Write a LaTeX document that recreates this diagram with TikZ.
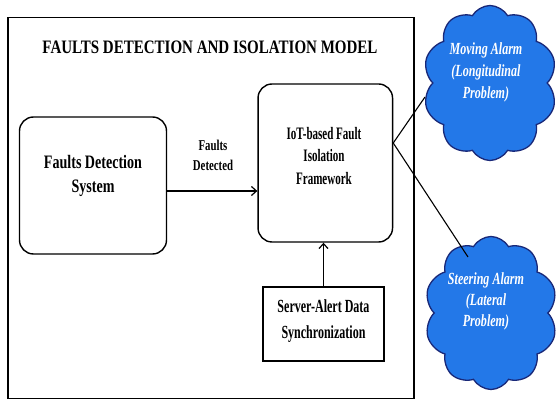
\documentclass[tikz,border=0pt]{standalone}
\usepackage{fontspec}
\setmainfont{Liberation Serif}
\newfontfamily\condA{Liberation Serif}[FakeStretch=0.79]
\newfontfamily\condB{Liberation Serif}[FakeStretch=0.74]
\newfontfamily\condC{Liberation Serif}[FakeStretch=0.63]
\newfontfamily\condD{Liberation Serif}[FakeStretch=0.65]
\newfontfamily\condE{Liberation Serif}[FakeStretch=0.72]
\newfontfamily\condF{Liberation Serif}[FakeStretch=0.71]
\usetikzlibrary{shapes.symbols,arrows.meta}
\definecolor{cloudfill}{RGB}{35,120,232}
\definecolor{cloudline}{RGB}{25,40,120}
\tikzset{
  frame/.style={draw, line width=1.1pt},
  rbox/.style={draw, line width=1.4pt, rounded corners=14pt, inner sep=0pt},
  sbox/.style={draw, line width=1.4pt, inner sep=0pt},
  txt/.style={align=center, inner sep=0pt},
  ctxt/.style={align=center, inner sep=0pt, text=white},
  alarm/.style={cloud, cloud puffs=10, cloud puff arc=120, cloud ignores aspect, draw=cloudline, fill=cloudfill, line width=1.3pt, inner sep=0pt},
  conn/.style={line width=1.1pt},
  arr/.style={line width=1.2pt, -{Straight Barb[length=5pt,width=9pt,line width=1.2pt]}}
}
\begin{document}
\begin{tikzpicture}[x=1pt,y=-1pt]
\useasboundingbox (0,0) rectangle (558,403);
\node[frame, minimum width=406pt, minimum height=381pt] (frame) at (211,208) {};
\node[txt, font=\condA\bfseries\fontsize{19}{22}\selectfont] (title) at (210,47) {FAULTS DETECTION AND ISOLATION MODEL};
\node[rbox, minimum width=147pt, minimum height=137pt] (fds) at (93,185.5) {};
\node[txt, font=\condB\bfseries\fontsize{19}{24}\selectfont] (fdst) at (93,176) {Faults Detection\\System};
\node[rbox, minimum width=134.5pt, minimum height=158pt] (iot) at (325.3,163) {};
\node[txt, font=\condC\bfseries\fontsize{17.5}{22.5}\selectfont] (iott) at (324,156) {IoT-based Fault\\Isolation\\Framework};
\node[sbox, minimum width=121pt, minimum height=74pt] (srv) at (323.5,324) {};
\node[txt, font=\condD\bfseries\fontsize{18.5}{26}\selectfont] (srvt) at (323.5,321) {Server-Alert Data\\Synchronization};
\node[txt, font=\condE\bfseries\fontsize{15}{20}\selectfont] (lbl) at (213,155) {Faults\\Detected};
\node[alarm, minimum width=134pt, minimum height=155pt] (c1) at (490,83) {};
\node[ctxt, font=\condF\bfseries\itshape\fontsize{17}{22}\selectfont] (c1t) at (486,72) {Moving Alarm\\(Longitudinal\\Problem)};
\node[alarm, minimum width=133pt, minimum height=153pt] (c2) at (491,313) {};
\node[ctxt, font=\condF\bfseries\itshape\fontsize{17}{21}\selectfont] (c2t) at (486,301) {Steering Alarm\\(Lateral\\Problem)};
\draw[arr] (fds.east |- 0,191) -- (iot.west |- 0,191);
\draw[arr] (srv.north) -- (srv.north |- iot.south);
\coordinate (src) at (392.5,143);
\draw[conn] (iot.east |- src) -- (425,97);
\draw[conn] (iot.east |- src) -- (468,257);
\end{tikzpicture}
\end{document}
